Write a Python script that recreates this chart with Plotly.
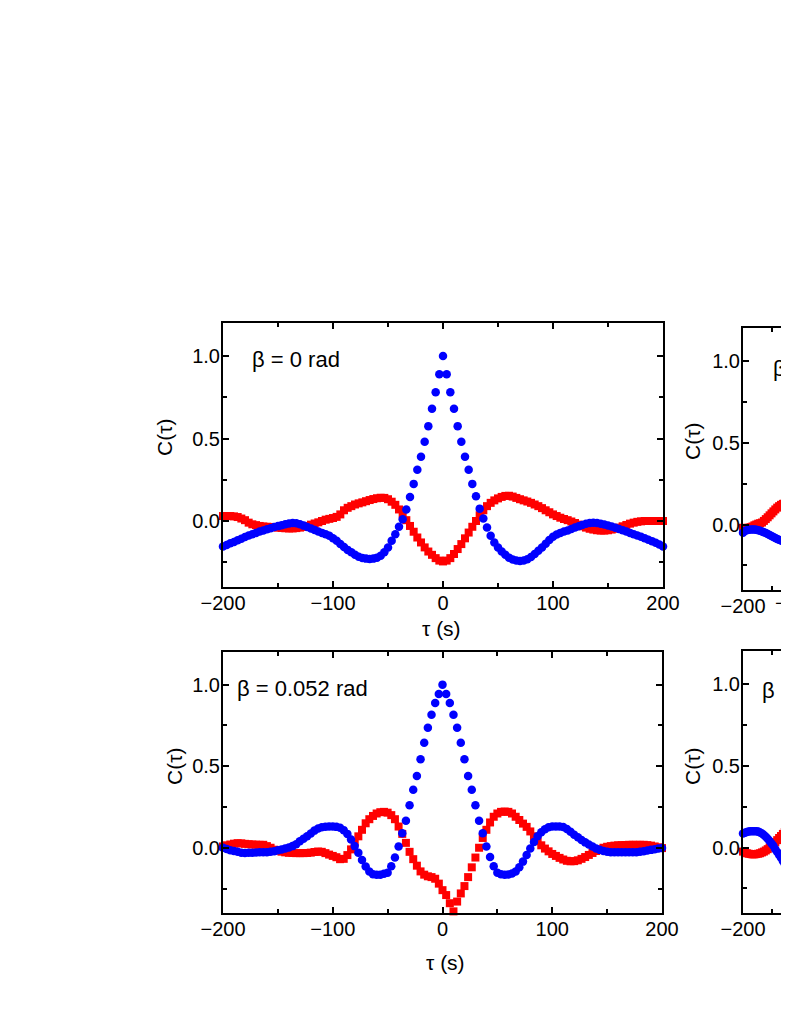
import numpy as np
import plotly.graph_objects as go

FONT = "Liberation Sans, Arial, Helvetica, sans-serif"
# the page body adds an 8 px margin, so the figure is drawn 8 px smaller
OFF = 8
W, H = 789 - OFF, 1021 - OFF

# time lag grid (s), sampled every 10/3 s
tau = np.linspace(-200, 200, 121)
tau_right = tau[:27]  # only the left part of the right-hand panels is visible

# beta = 0 rad
red_b0 = [
    0.030, 0.030, 0.030, 0.028, 0.024, 0.015, 0.005, -0.010, -0.020,
    -0.025, -0.030, -0.033, -0.035, -0.036, -0.038, -0.040, -0.042, -0.044,
    -0.045, -0.045, -0.043, -0.040, -0.036, -0.030, -0.022, -0.015, -0.008,
    0.000, 0.008, 0.013, 0.018, 0.025, 0.040, 0.065, 0.080, 0.090,
    0.100, 0.107, 0.113, 0.120, 0.127, 0.133, 0.138, 0.141, 0.140,
    0.132, 0.117, 0.098, 0.070, 0.040, 0.005, -0.030, -0.065, -0.100,
    -0.130, -0.160, -0.185, -0.205, -0.225, -0.240,
    -0.245, -0.240, -0.225, -0.200, -0.170, -0.140, -0.105, -0.070, -0.035,
    0.000, 0.035, 0.065, 0.090, 0.110, 0.125, 0.137, 0.146, 0.152,
    0.153, 0.148, 0.140, 0.132, 0.125, 0.118, 0.110, 0.100, 0.090,
    0.078, 0.065, 0.053, 0.040, 0.030, 0.020, 0.012, 0.005, -0.003,
    -0.012, -0.022, -0.032, -0.040, -0.047, -0.052, -0.056, -0.058, -0.058,
    -0.056, -0.052, -0.047, -0.040, -0.032, -0.024, -0.016, -0.010, -0.005,
    -0.002, 0.000, 0.000, 0.000, 0.000, 0.000, 0.000,
]
blue_b0 = [
    -0.155, -0.145, -0.135, -0.127, -0.117, -0.107, -0.097, -0.088, -0.080,
    -0.072, -0.064, -0.057, -0.050, -0.044, -0.037, -0.031, -0.025, -0.019,
    -0.015, -0.012, -0.014, -0.020, -0.028, -0.036, -0.045, -0.054, -0.063,
    -0.072, -0.080, -0.090, -0.105, -0.120, -0.140, -0.158, -0.175, -0.190,
    -0.205, -0.216, -0.224, -0.228, -0.230, -0.228, -0.222, -0.210, -0.190,
    -0.160, -0.120, -0.080, -0.035, 0.010, 0.070, 0.145, 0.225, 0.310,
    0.390, 0.480, 0.575, 0.680, 0.780, 0.890,
    1.000, 0.890, 0.780, 0.680, 0.575, 0.480, 0.390, 0.310, 0.225,
    0.150, 0.075, 0.015, -0.040, -0.090, -0.130, -0.160, -0.185, -0.205,
    -0.222, -0.233, -0.240, -0.242, -0.240, -0.232, -0.218, -0.200, -0.180,
    -0.160, -0.138, -0.115, -0.095, -0.082, -0.072, -0.064, -0.057, -0.049,
    -0.040, -0.032, -0.024, -0.017, -0.012, -0.010, -0.012, -0.016, -0.021,
    -0.027, -0.034, -0.041, -0.048, -0.056, -0.064, -0.072, -0.080, -0.088,
    -0.096, -0.104, -0.113, -0.122, -0.132, -0.143, -0.155,
]

# beta = 0.052 rad
red_b052 = [
    0.008, 0.015, 0.020, 0.025, 0.028, 0.027, 0.024, 0.022, 0.020,
    0.019, 0.018, 0.018, 0.010, 0.000, -0.012, -0.018, -0.024, -0.028,
    -0.031, -0.032, -0.033, -0.033, -0.033, -0.032, -0.030, -0.026, -0.023,
    -0.025, -0.033, -0.042, -0.050, -0.058, -0.070, -0.068, -0.045, -0.010,
    0.035, 0.070, 0.110, 0.150, 0.175, 0.195, 0.210, 0.218, 0.220,
    0.215, 0.200, 0.175, 0.130, 0.085, 0.030, -0.025, -0.070, -0.110,
    -0.145, -0.165, -0.175, -0.180, -0.190, -0.220,
    -0.260, -0.290, -0.340, -0.390, -0.330, -0.280, -0.235, -0.180, -0.120,
    -0.060, 0.000, 0.060, 0.110, 0.155, 0.190, 0.210, 0.220, 0.222,
    0.220, 0.210, 0.190, 0.170, 0.148, 0.128, 0.100, 0.070, 0.040,
    0.015, -0.005, -0.022, -0.038, -0.050, -0.062, -0.072, -0.080, -0.083,
    -0.082, -0.077, -0.068, -0.057, -0.044, -0.032, -0.020, -0.010, 0.000,
    0.006, 0.010, 0.013, 0.015, 0.016, 0.017, 0.018, 0.018, 0.018,
    0.018, 0.018, 0.016, 0.013, 0.008, 0.003, -0.002,
]
blue_b052 = [
    0.000, -0.008, -0.015, -0.020, -0.024, -0.030, -0.032, -0.031, -0.030,
    -0.029, -0.028, -0.028, -0.027, -0.025, -0.021, -0.016, -0.011, -0.005,
    0.002, 0.010, 0.022, 0.040, 0.055, 0.070, 0.088, 0.105, 0.118,
    0.126, 0.129, 0.130, 0.130, 0.128, 0.122, 0.108, 0.085, 0.050,
    0.010, -0.030, -0.075, -0.115, -0.145, -0.162, -0.165, -0.165, -0.160,
    -0.153, -0.113, -0.060, 0.008, 0.089, 0.165, 0.260, 0.355, 0.440,
    0.543, 0.644, 0.735, 0.816, 0.887, 0.943,
    1.000, 0.943, 0.887, 0.816, 0.735, 0.644, 0.543, 0.440, 0.355,
    0.260, 0.165, 0.089, 0.008, -0.056, -0.113, -0.153, -0.163, -0.165,
    -0.164, -0.158, -0.145, -0.120, -0.085, -0.045, -0.005, 0.035, 0.070,
    0.095, 0.113, 0.125, 0.130, 0.131, 0.130, 0.127, 0.115, 0.098,
    0.080, 0.064, 0.048, 0.033, 0.020, 0.008, -0.004, -0.013, -0.020,
    -0.025, -0.027, -0.028, -0.028, -0.028, -0.028, -0.028, -0.028, -0.027,
    -0.024, -0.021, -0.017, -0.013, -0.009, -0.005, -0.002,
]

# right-hand panels (cut off by the page edge)
red_tr = [
    -0.020, -0.022, -0.022, -0.020, -0.016, -0.012, -0.005, 0.000, 0.005,
    0.008, 0.012, 0.022, 0.033, 0.044, 0.056, 0.068, 0.080, 0.092,
    0.103, 0.112, 0.120, 0.126, 0.132, 0.138, 0.143, 0.148, 0.152,
]
blue_tr = [
    -0.050, -0.040, -0.035, -0.032, -0.030, -0.030, -0.030, -0.032, -0.035,
    -0.038, -0.042, -0.047, -0.052, -0.058, -0.064, -0.070, -0.076, -0.082,
    -0.088, -0.093, -0.098, -0.102, -0.106, -0.110, -0.113, -0.116, -0.119,
]
red_br = [
    -0.025, -0.030, -0.035, -0.038, -0.040, -0.042, -0.042, -0.040, -0.038,
    -0.035, -0.030, -0.025, -0.018, -0.010, 0.000, 0.010, 0.020, 0.032,
    0.045, 0.058, 0.070, 0.083, 0.095, 0.107, 0.118, 0.128, 0.137,
]
blue_br = [
    0.085, 0.090, 0.095, 0.098, 0.100, 0.100, 0.100, 0.100, 0.097,
    0.092, 0.085, 0.077, 0.066, 0.054, 0.040, 0.025, 0.010, -0.010,
    -0.027, -0.045, -0.063, -0.082, -0.100, -0.118, -0.135, -0.150, -0.165,
]


# page pixel -> paper fraction
def px_x(x):
    return (x - OFF) / W


def px_y(y):
    return 1 - (y - OFF) / H


def xaxis_style(domain, anchor, rng):
    return dict(
        domain=domain, anchor=anchor, range=rng, automargin=False,
        showline=True, linewidth=2, linecolor="black", mirror="ticks",
        ticks="inside", ticklen=6, tickwidth=2, tickcolor="black",
        tick0=0, dtick=100, ticklabelstandoff=-3,
        minor=dict(ticks="inside", ticklen=4, tickwidth=2, tickcolor="black", dtick=50),
        showgrid=False, zeroline=False,
        tickfont=dict(family=FONT, size=20, color="black"),
    )


def yaxis_style(domain, anchor, mirror):
    return dict(
        domain=domain, anchor=anchor, range=[-0.4, 1.2], automargin=False,
        showline=True, linewidth=2, linecolor="black", mirror=mirror,
        ticks="inside", ticklen=6, tickwidth=2, tickcolor="black",
        tick0=0, dtick=0.5, tickformat=".1f", ticklabelstandoff=-3,
        minor=dict(ticks="inside", ticklen=4, tickwidth=2, tickcolor="black", dtick=0.25),
        showgrid=False, zeroline=False,
        tickfont=dict(family=FONT, size=20, color="black"),
    )


fig = go.Figure()

panels = [
    ("x", "y", tau, red_b0, blue_b0),
    ("x2", "y2", tau_right, red_tr, blue_tr),
    ("x3", "y3", tau, red_b052, blue_b052),
    ("x4", "y4", tau_right, red_br, blue_br),
]
for xa, ya, t, red, blue in panels:
    fig.add_trace(go.Scatter(
        x=t, y=red, mode="markers", xaxis=xa, yaxis=ya, cliponaxis=False,
        marker=dict(symbol="square", size=8, color="#ff0000", line=dict(width=0)),
    ))
    fig.add_trace(go.Scatter(
        x=t, y=blue, mode="markers", xaxis=xa, yaxis=ya, cliponaxis=False,
        marker=dict(symbol="circle", size=8.5, color="#0000ff", line=dict(width=0)),
    ))

right_range = [-200, -200 + 46 / 0.57]

fig.update_layout(
    width=W, height=H, autosize=False,
    margin=dict(l=0, r=0, t=0, b=0, pad=0),
    paper_bgcolor="white", plot_bgcolor="white",
    showlegend=False,
    xaxis=xaxis_style([px_x(223), px_x(663)], "y", [-200, 200]),
    yaxis=yaxis_style([px_y(587), px_y(323)], "x", "ticks"),
    xaxis2=xaxis_style([px_x(743), 1.0], "y2", right_range),
    yaxis2=yaxis_style([px_y(590), px_y(328)], "x2", False),
    xaxis3=xaxis_style([px_x(223), px_x(662)], "y3", [-200, 200]),
    yaxis3=yaxis_style([px_y(913), px_y(652)], "x3", "ticks"),
    xaxis4=xaxis_style([px_x(743), 1.0], "y4", right_range),
    yaxis4=yaxis_style([px_y(913), px_y(651)], "x4", False),
)

labels = [
    # text, x px, y px, size, angle, anchor
    ("β = 0 rad", 250, 359, 22, 0, "left"),
    ("β = 0.052 rad", 235, 688, 22, 0, "left"),
    ("β", 771, 369, 22, 0, "left"),
    ("β =", 760, 690, 22, 0, "left"),
    ("C(τ)", 164, 438, 21, -90, "center"),
    ("C(τ)", 174, 767, 21, -90, "center"),
    ("C(τ)", 692, 442, 21, -90, "center"),
    ("C(τ)", 692, 767, 21, -90, "center"),
    ("τ (s)", 441, 628, 21, 0, "center"),
    ("τ (s)", 445, 962, 21, 0, "center"),
    ("−100", 773, 603, 20, 0, "left"),  # tick label of the cut-off panel
]
for text, x, y, size, angle, anchor in labels:
    fig.add_annotation(
        text=text, xref="paper", yref="paper", x=px_x(x), y=px_y(y),
        xanchor=anchor, yanchor="middle", textangle=angle, showarrow=False,
        font=dict(family=FONT, size=size, color="black"),
    )

fig.write_html("out.html")
